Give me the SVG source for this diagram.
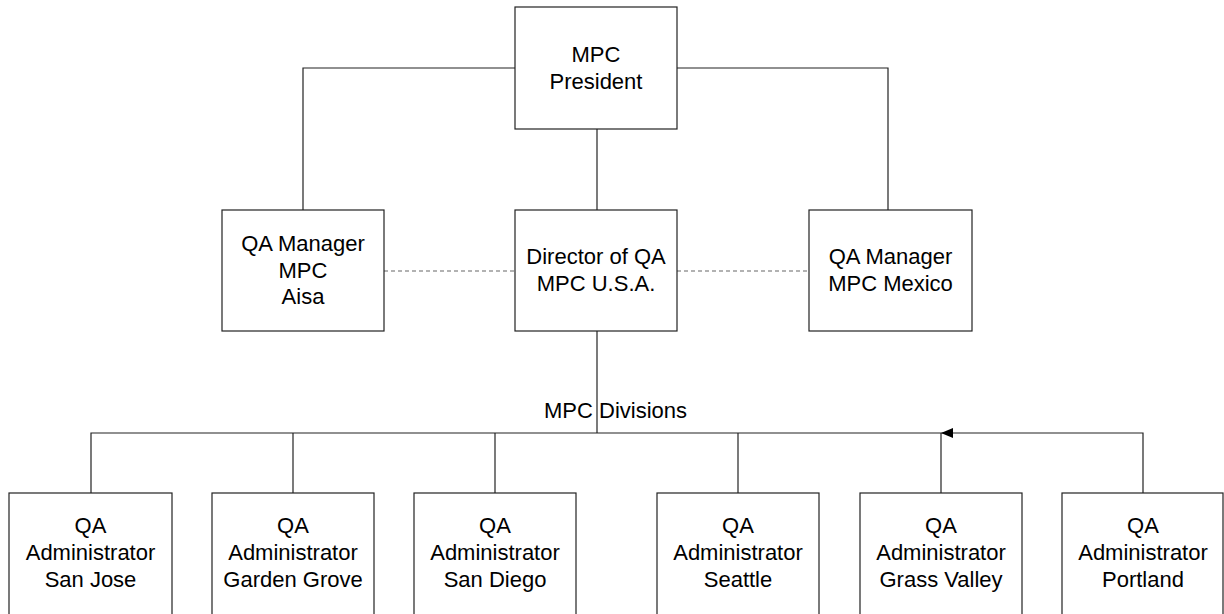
<svg xmlns="http://www.w3.org/2000/svg" width="1224" height="614" viewBox="0 0 1224 614">
<style>
.box{fill:#fff;stroke:#222;stroke-width:1.2}
.t{font-family:"Liberation Sans",Arial,sans-serif;font-size:22px;fill:#000;text-anchor:middle}
.c{fill:none;stroke:#222;stroke-width:1.2}
.d{fill:none;stroke:#666;stroke-width:1.2;stroke-dasharray:4,3}
</style>
<defs>
<marker id="ah" viewBox="0 0 12 10" refX="12" refY="5" markerWidth="12" markerHeight="10" markerUnits="userSpaceOnUse" orient="auto">
<path d="M0,0 L12,5 L0,10 Z" fill="#000"/>
</marker>
</defs>
<rect width="1224" height="614" fill="#fff"/>
<g id="connectors">
<path class="c" d="M515,68 H303 V210"/>
<path class="c" d="M677,68 H888 V210"/>
<path class="c" d="M597,129 V210"/>
<path class="d" d="M384,271 H515"/>
<path class="d" d="M677,271 H809"/>
<path class="c" d="M597,331 V433"/>
<path class="c" d="M91,493 V433 H941"/>
<path class="c" d="M293,433 V493"/>
<path class="c" d="M495,433 V493"/>
<path class="c" d="M738,433 V493"/>
<path class="c" d="M941,433 V493"/>
<path class="c" d="M1143,493 V433 H941" marker-end="url(#ah)"/>
<text class="t" x="544" y="418" style="text-anchor:start">MPC Divisions</text>
</g>
<g id="president">
<rect class="box" x="515" y="7" width="162" height="122"/>
<text class="t" x="596" y="62">MPC</text>
<text class="t" x="596" y="89">President</text>
</g>
<g id="qa-asia">
<rect class="box" x="222" y="210" width="162" height="121"/>
<text class="t" x="303" y="251">QA Manager</text>
<text class="t" x="303" y="278">MPC</text>
<text class="t" x="303" y="304">Aisa</text>
</g>
<g id="director">
<rect class="box" x="515" y="210" width="162" height="121"/>
<text class="t" x="596" y="264">Director of QA</text>
<text class="t" x="596" y="291">MPC U.S.A.</text>
</g>
<g id="qa-mexico">
<rect class="box" x="809" y="210" width="163" height="121"/>
<text class="t" x="890.5" y="264">QA Manager</text>
<text class="t" x="890.5" y="291">MPC Mexico</text>
</g>
<g id="san-jose">
<rect class="box" x="9" y="493" width="163" height="140"/>
<text class="t" x="90.5" y="533">QA</text>
<text class="t" x="90.5" y="560">Administrator</text>
<text class="t" x="90.5" y="587">San Jose</text>
</g>
<g id="garden-grove">
<rect class="box" x="212" y="493" width="162" height="140"/>
<text class="t" x="293" y="533">QA</text>
<text class="t" x="293" y="560">Administrator</text>
<text class="t" x="293" y="587">Garden Grove</text>
</g>
<g id="san-diego">
<rect class="box" x="414" y="493" width="162" height="140"/>
<text class="t" x="495" y="533">QA</text>
<text class="t" x="495" y="560">Administrator</text>
<text class="t" x="495" y="587">San Diego</text>
</g>
<g id="seattle">
<rect class="box" x="657" y="493" width="162" height="140"/>
<text class="t" x="738" y="533">QA</text>
<text class="t" x="738" y="560">Administrator</text>
<text class="t" x="738" y="587">Seattle</text>
</g>
<g id="grass-valley">
<rect class="box" x="860" y="493" width="162" height="140"/>
<text class="t" x="941" y="533">QA</text>
<text class="t" x="941" y="560">Administrator</text>
<text class="t" x="941" y="587">Grass Valley</text>
</g>
<g id="portland">
<rect class="box" x="1062" y="493" width="161" height="140"/>
<text class="t" x="1143" y="533">QA</text>
<text class="t" x="1143" y="560">Administrator</text>
<text class="t" x="1143" y="587">Portland</text>
</g>
</svg>
